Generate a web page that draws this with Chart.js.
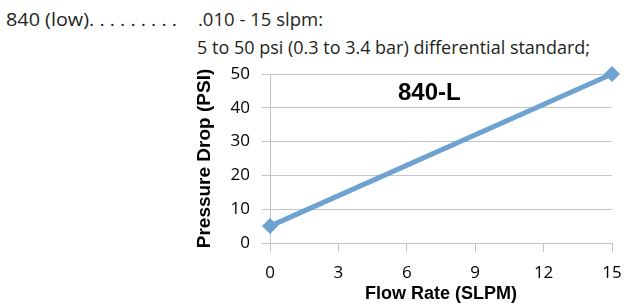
<!DOCTYPE html>
<html>
<head>
<meta charset="utf-8">
<script src="https://cdn.jsdelivr.net/npm/chart.js@4.4.1/dist/chart.umd.min.js"></script>
<style>
  html, body { margin: 0; padding: 0; background: #fff; }
  .wrap { position: relative; width: 624px; height: 305px; overflow: hidden; }
  .spec { position: absolute; font-family: "Open Sans", sans-serif; font-size: 19px; line-height: 19px; color: #231f20; white-space: nowrap; transform-origin: 0 0; }
  canvas { position: absolute; left: 0; top: 0; }
</style>
</head>
<body>
<div class="wrap">
  <div class="spec" data-w="171" style="left:6px; top:10px;">840 (low). . . . . . . . .</div>
  <div class="spec" data-w="125" style="left:198px; top:10px;">.010 - 15 slpm:</div>
  <div class="spec" data-w="393" style="left:197px; top:38px;">5 to 50 psi (0.3 to 3.4 bar) differential standard;</div>
  <canvas id="myChart" width="624" height="305"></canvas>
</div>
<script>
// flow rate (SLPM) vs pressure drop (PSI)
const flowRate = [0, 15];
const pressureDrop = [5, 50];
const xTicks = [0, 3, 6, 9, 12, 15];
const yTicks = [0, 10, 20, 30, 40, 50];
const modelName = "840-L";

// the spec lines use a condensed face in the original, squeeze them to fit
document.querySelectorAll(".spec").forEach((el) => {
	const w = el.getBoundingClientRect().width;
	el.style.transform = "scaleX(" + (el.dataset.w / w) + ")";
});

// draws the model name inside the plot area
const modelLabel = {
	id: "modelLabel",
	afterDatasetsDraw(chart) {
		const { ctx, chartArea } = chart;
		ctx.save();
		ctx.font = "bold 24px 'Liberation Sans', Arial, sans-serif";
		ctx.fillStyle = "#000";
		ctx.textBaseline = "middle";
		ctx.fillText(modelName, chartArea.left + 128, chartArea.top + 19);
		ctx.restore();
	},
};

const ctx = document.getElementById("myChart").getContext("2d");

new Chart(ctx, {
	type: "line",
	data: {
		datasets: [
			{
				data: flowRate.map((x, i) => ({ x: x, y: pressureDrop[i] })),
				borderColor: "rgb(110, 162, 208)",
				backgroundColor: "rgb(110, 162, 208)",
				borderWidth: 5,
				pointStyle: "rectRot",
				pointRadius: 8,
				pointBorderWidth: 0,
				fill: false,
				clip: false,
			},
		],
	},
	options: {
		responsive: false,
		animation: false,
		layout: { padding: { left: 190, right: 12, top: 74, bottom: 0 } },
		plugins: {
			legend: { display: false },
			tooltip: { enabled: false },
		},
		scales: {
			x: {
				type: "linear",
				min: xTicks[0],
				max: xTicks[xTicks.length - 1],
				afterBuildTicks: (s) => { s.ticks = xTicks.map((v) => ({ value: v })); },
				// let the last label run off the edge like in the original
				afterFit: (s) => { s.height = 62; s.paddingLeft = 0; s.paddingRight = 0; },
				grid: { drawOnChartArea: false, color: "#c4c4c4", tickLength: 9 },
				border: { color: "#c4c4c4" },
				ticks: { font: { family: "'Open Sans', sans-serif", size: 17 }, color: "#000", padding: 11, maxRotation: 0 },
				title: {
					display: true,
					text: "Flow Rate (SLPM)",
					font: { family: "'Liberation Sans', Arial, sans-serif", size: 18, weight: "bold" },
					color: "#000",
					padding: { top: 0, bottom: 0 },
				},
			},
			y: {
				min: yTicks[0],
				max: yTicks[yTicks.length - 1],
				afterBuildTicks: (s) => { s.ticks = yTicks.map((v) => ({ value: v })); },
				afterFit: (s) => { s.width = 80; s.paddingTop = 0; s.paddingBottom = 0; },
				grid: { color: "#c4c4c4", tickLength: 8 },
				border: { color: "#c4c4c4" },
				ticks: { font: { family: "'Open Sans', sans-serif", size: 17 }, color: "#000", padding: 12 },
				title: {
					display: true,
					text: "Pressure Drop (PSI)",
					font: { family: "'Liberation Sans', Arial, sans-serif", size: 19, weight: "bold" },
					color: "#000",
					padding: { top: 3, bottom: 0 },
				},
			},
		},
	},
	plugins: [modelLabel],
});
</script>
</body>
</html>
